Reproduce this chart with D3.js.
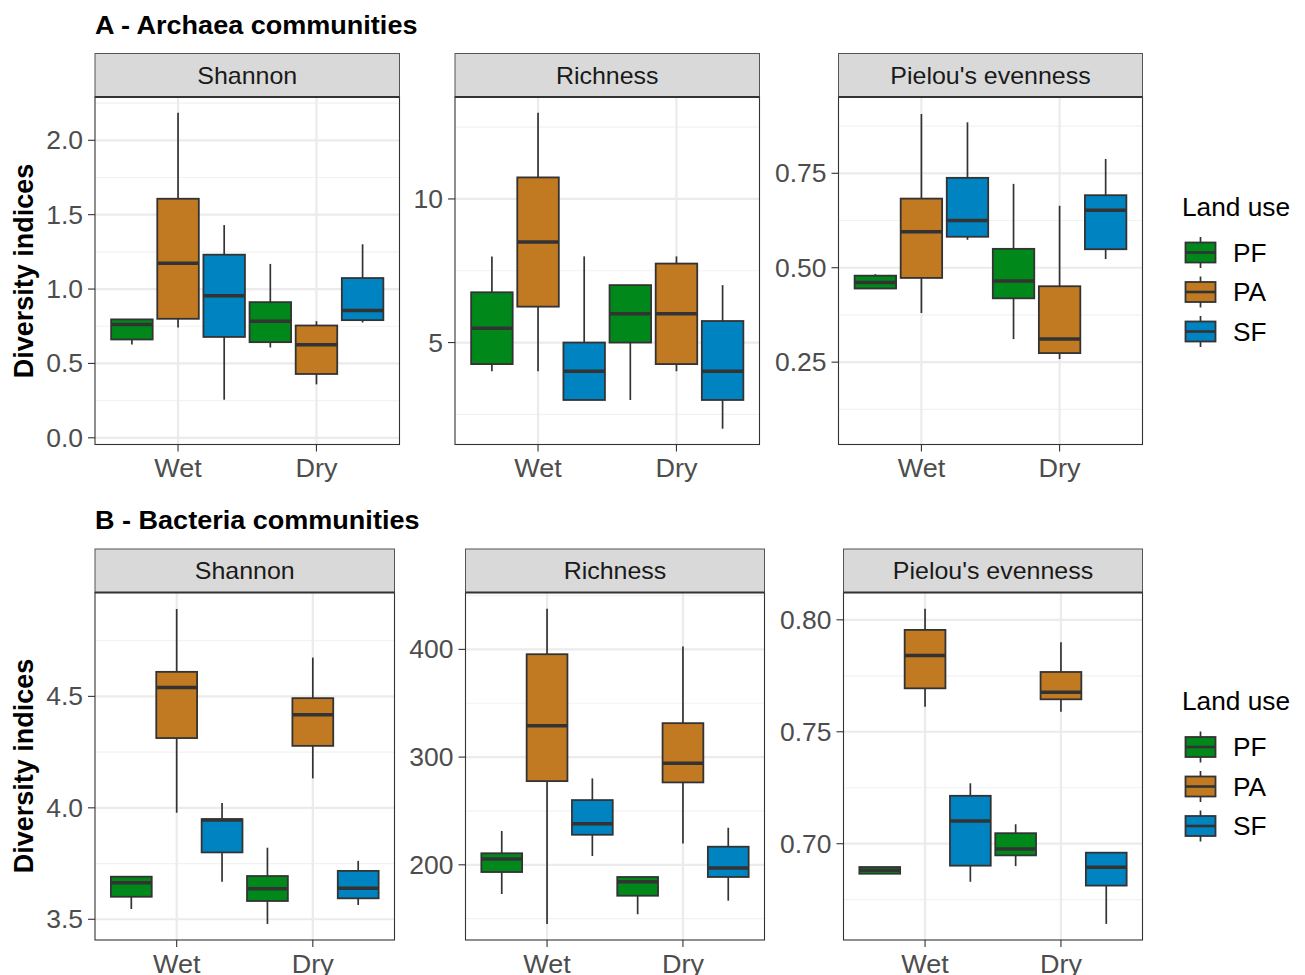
<!DOCTYPE html>
<html>
<head>
<meta charset="utf-8">
<script src="https://cdn.jsdelivr.net/npm/d3@7"></script>
<style>
  body { margin: 0; background: #ffffff; }
  svg { display: block; }
  text { font-family: "Liberation Sans", Arial, Helvetica, sans-serif; }
</style>
</head>
<body>
<svg id="chart" width="1305" height="975"></svg>
<script>
// ---- data -------------------------------------------------------------
const conditions = ["Wet", "Dry"];
const landUses = ["PF", "PA", "SF"];
const landUseColors = ["#00891A", "#C17A22", "#0083C1"];
const indices = ["Shannon", "Richness", "Pielou's evenness"];
const groupTitles = ["A - Archaea communities", "B - Bacteria communities"];

// Box summaries: [lower whisker, Q1, median, Q3, upper whisker]
// order: Wet PF, Wet PA, Wet SF, Dry PF, Dry PA, Dry SF
const archaeaShannon = [
  [0.627, 0.661, 0.762, 0.796, 0.796],
  [0.742, 0.800, 1.173, 1.607, 2.185],
  [0.256, 0.678, 0.955, 1.231, 1.430],
  [0.607, 0.643, 0.784, 0.912, 1.169],
  [0.359, 0.429, 0.625, 0.755, 0.784],
  [0.775, 0.791, 0.856, 1.074, 1.301]
];
const archaeaRichness = [
  [4.0, 4.25, 5.5, 6.75, 8.0],
  [4.0, 6.25, 8.5, 10.75, 13.0],
  [3.0, 3.0, 4.0, 5.0, 8.0],
  [3.0, 5.0, 6.0, 7.0, 7.0],
  [4.0, 4.25, 6.0, 7.75, 8.0],
  [2.0, 3.0, 4.0, 5.75, 7.0]
];
const archaeaPielou = [
  [0.444, 0.445, 0.461, 0.479, 0.483],
  [0.380, 0.473, 0.595, 0.683, 0.907],
  [0.574, 0.582, 0.625, 0.738, 0.885],
  [0.311, 0.419, 0.465, 0.550, 0.722],
  [0.258, 0.274, 0.311, 0.451, 0.664],
  [0.523, 0.549, 0.652, 0.692, 0.788]
];
const bacteriaShannon = [
  [3.546, 3.601, 3.664, 3.691, 3.691],
  [3.978, 4.313, 4.540, 4.610, 4.892],
  [3.668, 3.800, 3.945, 3.949, 4.022],
  [3.479, 3.582, 3.637, 3.694, 3.821],
  [4.132, 4.278, 4.417, 4.492, 4.674],
  [3.564, 3.594, 3.639, 3.717, 3.762]
];
const bacteriaRichness = [
  [172.9, 193.3, 205.4, 210.7, 231.4],
  [145.1, 277.7, 329.0, 395.5, 437.6],
  [208.2, 227.9, 238.1, 260.1, 280.2],
  [154.1, 171.3, 184.3, 188.7, 188.7],
  [219.9, 276.5, 294.4, 331.5, 402.7],
  [166.7, 188.7, 197.0, 216.8, 234.4]
];
const bacteriaPielou = [
  [0.6866, 0.6866, 0.6882, 0.6896, 0.6896],
  [0.7612, 0.7694, 0.7841, 0.7955, 0.8049],
  [0.6830, 0.6902, 0.7101, 0.7214, 0.7270],
  [0.6900, 0.6948, 0.6976, 0.7047, 0.7087],
  [0.7589, 0.7645, 0.7676, 0.7767, 0.7900],
  [0.6642, 0.6813, 0.6895, 0.6960, 0.6960]
];

// y-axis limits and tick labels per panel
const archaeaShannonLimits = [-0.045, 2.291];
const archaeaRichnessLimits = [1.45, 13.55];
const archaeaPielouLimits = [0.032, 0.952];
const bacteriaShannonLimits = [3.407, 4.966];
const bacteriaRichnessLimits = [130.2, 452.8];
const bacteriaPielouLimits = [0.657, 0.8122];

const archaeaShannonTicks = ["0.0", "0.5", "1.0", "1.5", "2.0"];
const archaeaRichnessTicks = ["5", "10"];
const archaeaPielouTicks = ["0.25", "0.50", "0.75"];
const bacteriaShannonTicks = ["3.5", "4.0", "4.5"];
const bacteriaRichnessTicks = ["200", "300", "400"];
const bacteriaPielouTicks = ["0.70", "0.75", "0.80"];

// ---- layout -----------------------------------------------------------
const rows = [
  { title: groupTitles[0], titleY: 33.5, stripTop: 53.5, top: 97, bottom: 444.5,
    legendY: 215.5, axisTitleY: 271,
    panels: [
      { x0: 95, x1: 399.5, stats: archaeaShannon, limits: archaeaShannonLimits, ticks: archaeaShannonTicks },
      { x0: 455, x1: 759.5, stats: archaeaRichness, limits: archaeaRichnessLimits, ticks: archaeaRichnessTicks },
      { x0: 838.5, x1: 1142.5, stats: archaeaPielou, limits: archaeaPielouLimits, ticks: archaeaPielouTicks }
    ] },
  { title: groupTitles[1], titleY: 529, stripTop: 549, top: 592.5, bottom: 940,
    legendY: 710, axisTitleY: 766,
    panels: [
      { x0: 95, x1: 394.5, stats: bacteriaShannon, limits: bacteriaShannonLimits, ticks: bacteriaShannonTicks },
      { x0: 465.5, x1: 764.5, stats: bacteriaRichness, limits: bacteriaRichnessLimits, ticks: bacteriaRichnessTicks },
      { x0: 843.5, x1: 1142.5, stats: bacteriaPielou, limits: bacteriaPielouLimits, ticks: bacteriaPielouTicks }
    ] }
];

const ink = "#333333";
const tickInk = "#4D4D4D";
const gridMajor = "#EBEBEB";
const gridMinor = "#F2F2F2";

const svg = d3.select("#chart");

function label(g, x, y, str, opts) {
  const o = Object.assign({ size: 24, anchor: "start", fill: "#000", weight: "normal", rotate: 0, sx: 1 }, opts || {});
  return g.append("text")
    .attr("transform", `translate(${x},${y}) rotate(${o.rotate}) scale(${o.sx},1)`)
    .attr("text-anchor", o.anchor)
    .attr("font-size", o.size)
    .attr("font-weight", o.weight)
    .attr("fill", o.fill)
    .text(str);
}

rows.forEach(row => {
  const rg = svg.append("g");
  label(rg, 95, row.titleY, row.title, { size: 26, weight: "bold", sx: 1.04 });
  label(rg, 33, row.axisTitleY, "Diversity indices", { size: 27, weight: "bold", anchor: "middle", rotate: -90 });

  row.panels.forEach((p, pi) => {
    const g = rg.append("g");
    const nums = p.ticks.map(Number);
    const y = d3.scaleLinear().domain(p.limits).range([row.bottom, row.top]);
    const x = d3.scaleLinear().domain([0.4, conditions.length + 0.6]).range([p.x0, p.x1]);

    // minor grid: midpoints between major breaks, extended one step each side
    const step = nums[1] - nums[0];
    const minors = d3.range(nums[0] - step / 2, nums[nums.length - 1] + step, step)
      .filter(v => v > p.limits[0] && v < p.limits[1]);

    g.append("rect").attr("x", p.x0).attr("y", row.top)
      .attr("width", p.x1 - p.x0).attr("height", row.bottom - row.top).attr("fill", "#fff");

    g.selectAll(".minor").data(minors).join("line")
      .attr("x1", p.x0).attr("x2", p.x1)
      .attr("y1", d => y(d)).attr("y2", d => y(d))
      .attr("stroke", gridMinor).attr("stroke-width", 1.2);
    g.selectAll(".major").data(nums).join("line")
      .attr("x1", p.x0).attr("x2", p.x1)
      .attr("y1", d => y(d)).attr("y2", d => y(d))
      .attr("stroke", gridMajor).attr("stroke-width", 2.2);
    g.selectAll(".vmajor").data(conditions).join("line")
      .attr("x1", (d, i) => x(i + 1)).attr("x2", (d, i) => x(i + 1))
      .attr("y1", row.top).attr("y2", row.bottom)
      .attr("stroke", gridMajor).attr("stroke-width", 2.2);

    // boxes
    const half = 0.15;
    p.stats.forEach((s, k) => {
      const ci = Math.floor(k / landUses.length);
      const li = k % landUses.length;
      const cx = ci + 1 + (li - 1) / landUses.length;
      const [lo, q1, med, q3, hi] = s;
      const bx = g.append("g");
      bx.append("line").attr("x1", x(cx)).attr("x2", x(cx))
        .attr("y1", y(hi)).attr("y2", y(q3)).attr("stroke", ink).attr("stroke-width", 1.7);
      bx.append("line").attr("x1", x(cx)).attr("x2", x(cx))
        .attr("y1", y(q1)).attr("y2", y(lo)).attr("stroke", ink).attr("stroke-width", 1.7);
      bx.append("rect")
        .attr("x", x(cx - half)).attr("width", x(cx + half) - x(cx - half))
        .attr("y", y(q3)).attr("height", Math.max(0.5, y(q1) - y(q3)))
        .attr("fill", landUseColors[li]).attr("stroke", ink).attr("stroke-width", 1.8);
      bx.append("line").attr("x1", x(cx - half)).attr("x2", x(cx + half))
        .attr("y1", y(med)).attr("y2", y(med)).attr("stroke", ink).attr("stroke-width", 3.5);
    });

    // panel border
    g.append("rect").attr("x", p.x0).attr("y", row.top)
      .attr("width", p.x1 - p.x0).attr("height", row.bottom - row.top)
      .attr("fill", "none").attr("stroke", ink).attr("stroke-width", 1.1);

    // strip
    g.append("rect").attr("x", p.x0).attr("y", row.stripTop)
      .attr("width", p.x1 - p.x0).attr("height", row.top - row.stripTop)
      .attr("fill", "#D9D9D9").attr("stroke", "#555555").attr("stroke-width", 1);
    g.append("line").attr("x1", p.x0).attr("x2", p.x1).attr("y1", row.top).attr("y2", row.top)
      .attr("stroke", ink).attr("stroke-width", 2);
    label(g, (p.x0 + p.x1) / 2, (row.stripTop + row.top) / 2 + 8.5, indices[pi],
      { size: 24, anchor: "middle", fill: "#1A1A1A", sx: 1.04 });

    // y axis
    nums.forEach((v, i) => {
      g.append("line").attr("x1", p.x0 - 7).attr("x2", p.x0).attr("y1", y(v)).attr("y2", y(v))
        .attr("stroke", ink).attr("stroke-width", 1.1);
      label(g, p.x0 - 12, y(v) + 9, p.ticks[i], { size: 25, anchor: "end", fill: tickInk, sx: 1.06 });
    });
    // x axis
    conditions.forEach((c, i) => {
      g.append("line").attr("x1", x(i + 1)).attr("x2", x(i + 1))
        .attr("y1", row.bottom).attr("y2", row.bottom + 7)
        .attr("stroke", ink).attr("stroke-width", 1.1);
      label(g, x(i + 1), row.bottom + 32.5, c, { size: 25.5, anchor: "middle", fill: tickInk, sx: 1.06 });
    });
  });

  // legend
  const lg = rg.append("g");
  label(lg, 1182, row.legendY, "Land use", { size: 25, sx: 1.05 });
  const offsets = [37, 76.5, 116];
  landUses.forEach((lu, i) => {
    const cy = row.legendY + offsets[i];
    lg.append("line").attr("x1", 1200.5).attr("x2", 1200.5).attr("y1", cy - 15.5).attr("y2", cy + 15.5)
      .attr("stroke", ink).attr("stroke-width", 1.7);
    lg.append("rect").attr("x", 1185.5).attr("y", cy - 10).attr("width", 30).attr("height", 20)
      .attr("fill", landUseColors[i]).attr("stroke", ink).attr("stroke-width", 1.8);
    lg.append("line").attr("x1", 1185.5).attr("x2", 1215.5).attr("y1", cy).attr("y2", cy)
      .attr("stroke", ink).attr("stroke-width", 2.6);
    label(lg, 1233, cy + 9, lu, { size: 25, sx: 1.05 });
  });
});
</script>
</body>
</html>
